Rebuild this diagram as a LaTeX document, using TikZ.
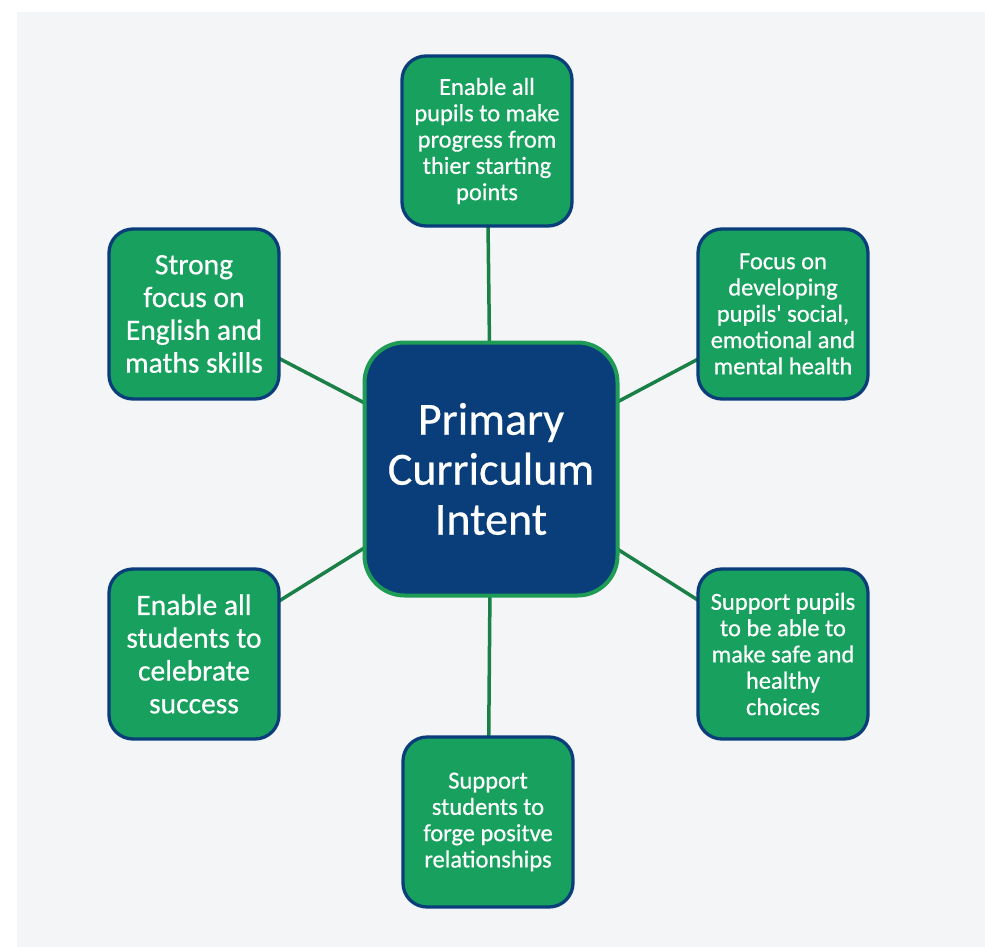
\documentclass[tikz,border=0pt]{standalone}
\usepackage{fontspec}
\setmainfont{Carlito}[FakeBold=0.5]
\pgfdeclarelayer{bg}
\pgfdeclarelayer{lines}
\pgfsetlayers{bg,lines,main}
\definecolor{boxgreen}{RGB}{24,161,94}
\definecolor{boxblue}{RGB}{10,62,122}
\definecolor{linegreen}{RGB}{27,128,72}
\definecolor{ringgreen}{RGB}{30,155,85}
\definecolor{paper}{RGB}{244,245,246}
\tikzset{
  leaf/.style={draw=boxblue, line width=3.3pt, fill=boxgreen, rounded corners=24pt,
    minimum width=170pt, minimum height=170pt, inner sep=0pt, align=center,
    text=white, font=\fontsize{24.5}{26.3}\selectfont},
  bigleaf/.style={leaf, font=\fontsize{29.5}{32.8}\selectfont},
  hub/.style={draw=ringgreen, line width=4pt, fill=boxblue, rounded corners=40pt,
    minimum width=253pt, minimum height=253pt, inner sep=0pt, align=center,
    text=white, font=\fontsize{46}{50}\selectfont},
  spoke/.style={draw=linegreen, line width=3.5pt}
}
\begin{document}
\begin{tikzpicture}[x=1pt,y=-1pt]
\useasboundingbox (0,0) rectangle (985,947);
\begin{pgfonlayer}{bg}
\fill[paper] (17,12) rectangle (985,947);
\end{pgfonlayer}
\node[hub] (c) at (491,469) {Primary\\Curriculum\\Intent};
\node[leaf] (t) at (487,141) {Enable all\\pupils to make\\progress from\\thier starting\\points};
\node[leaf] (tr) at (783,314) {Focus on\\developing\\pupils\textquotesingle\ social,\\emotional and\\mental health};
\node[bigleaf] (tl) at (194,314) {Strong\\focus on\\English and\\maths skills};
\node[bigleaf] (bl) at (194,654) {Enable all\\students to\\celebrate\\success};
\node[leaf] (br) at (783,654) {Support pupils\\to be able to\\make safe and\\healthy\\choices};
\node[leaf] (b) at (488,822) {Support\\students to\\forge positve\\relationships};
\begin{pgfonlayer}{lines}
\draw[spoke] (c.center) -- (t.center);
\draw[spoke] (c.center) -- (tr.center);
\draw[spoke] (c.center) -- (tl.center);
\draw[spoke] (c.center) -- (bl.center);
\draw[spoke] (c.center) -- (br.center);
\draw[spoke] (c.center) -- (b.center);
\end{pgfonlayer}
\end{tikzpicture}
\end{document}
